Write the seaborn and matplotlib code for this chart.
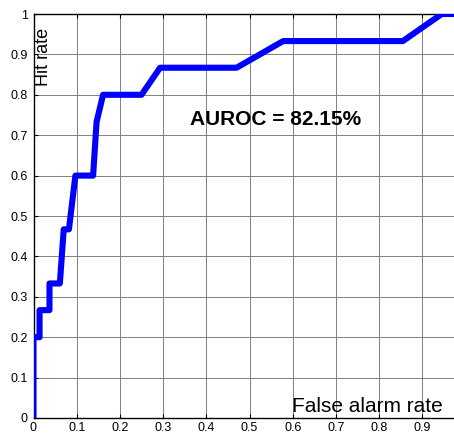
import matplotlib
matplotlib.use("Agg")
import matplotlib.pyplot as plt
import seaborn as sns
import pandas as pd
import numpy as np

# ROC curve points
fpr = [0, 0, 0.014, 0.014, 0.037, 0.037, 0.061, 0.070, 0.082, 0.097, 0.138,
       0.146, 0.161, 0.250, 0.293, 0.470, 0.578, 0.855, 0.945, 1.0]
tpr = [0, 0.2, 0.2, 0.267, 0.267, 0.333, 0.333, 0.467, 0.467, 0.6, 0.6,
       0.733, 0.8, 0.8, 0.867, 0.867, 0.933, 0.933, 1.0, 1.0]
tick_vals = [0, 0.1, 0.2, 0.3, 0.4, 0.5, 0.6, 0.7, 0.8, 0.9, 1]
y_labels = ["0", "0.1", "0.2", "0.3", "0.4", "0.5", "0.6", "0.7", "0.8", "0.9", "1"]
x_labels = ["0", "0.1", "0.2", "0.3", "0.4", "0.5", "0.6", "0.7", "0.8", "0.9", ""]
auroc_text = "AUROC = 82.15%"

sns.set_style("white")
plt.rcParams['font.family'] = ['Liberation Sans', 'DejaVu Sans']
plt.rcParams['text.color'] = 'black'

df = pd.DataFrame({'fpr': fpr, 'tpr': tpr})

fig = plt.figure(figsize=(4.54, 4.34), dpi=100)
# axes runs past the right edge, as in the cropped original
ax = fig.add_axes([33.5 / 454, 16 / 434, 432 / 454, 404 / 434])

sns.lineplot(data=df, x='fpr', y='tpr', sort=False, estimator=None,
             color='#0000ff', linewidth=4.4, ax=ax, zorder=3)

ax.set_xlim(0, 1)
ax.set_ylim(0, 1)
ax.set_xticks(tick_vals)
ax.set_xticklabels(x_labels)
ax.set_yticks(tick_vals)
ax.set_yticklabels(y_labels)
ax.tick_params(direction='in', length=3, width=0.8, labelsize=9,
               top=True, bottom=True, left=True, right=False,
               colors='black', labelcolor='black', pad=3)
ax.tick_params(axis='y', pad=4)
ax.grid(True, color='#808080', linewidth=0.7, linestyle='-')
for side in ['left', 'bottom', 'top', 'right']:
    ax.spines[side].set_color('black')
    ax.spines[side].set_linewidth(1.0)
ax.set_xlabel('')
ax.set_ylabel('')

ax.text(0.598, 0.005, 'False alarm rate', fontsize=15, ha='left', va='bottom', color='black')
ax.text(0.024, 0.966, 'Hit rate', fontsize=13, rotation=90, ha='center', va='top', color='black')
ax.text(0.561, 0.738, auroc_text, fontsize=15, fontweight='bold', ha='center', va='center',
        color='black')

fig.savefig('out.png', dpi=100)
